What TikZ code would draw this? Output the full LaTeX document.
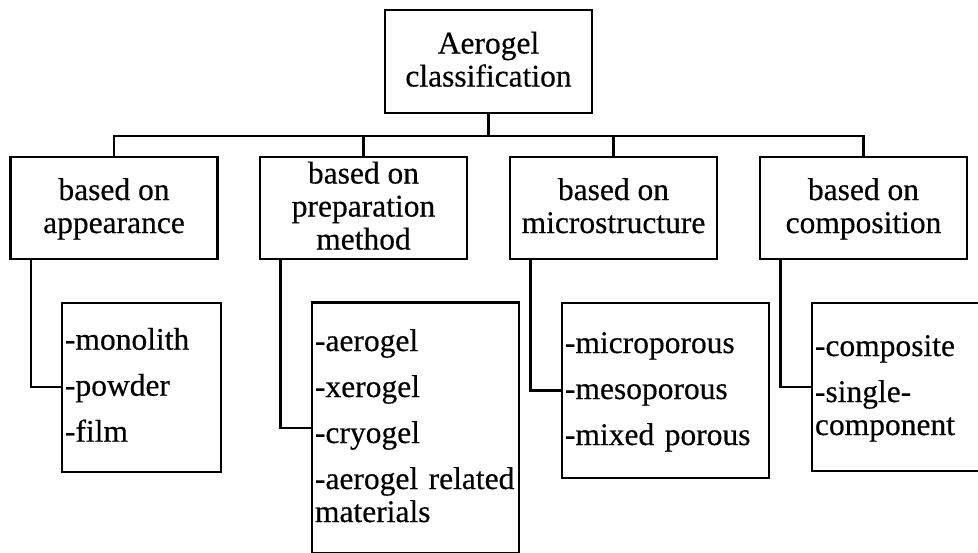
\documentclass[tikz,border=0pt]{standalone}
\usepackage{fontspec}
\setmainfont{Liberation Serif}[FakeBold=0.4]
\newcommand\mystrut{\rule[-8pt]{0pt}{33pt}}
\begin{document}
\begin{tikzpicture}[x=1pt,y=-1pt,
  line width=2.2pt,
  every node/.style={font=\fontsize{31.5}{33}\selectfont},
  topbox/.style={draw, minimum width=207pt, minimum height=103pt, inner sep=0pt, align=center},
  catbox/.style={draw, minimum width=207pt, minimum height=102pt, inner sep=0pt, align=center},
  leafbox/.style={draw, inner xsep=3pt, inner ysep=0pt, align=left, anchor=center},
  conn/.style={line width=2.2pt}
]
\useasboundingbox (0,0) rectangle (978,552);
\clip (0,0) rectangle (978,552);
\node[topbox] (top) at (488.5,61.5) {\mystrut Aerogel\\\mystrut classification};
\node[catbox] (c1) at (114,208) {\mystrut based on\\\mystrut appearance};
\node[catbox] (c2) at (363.5,208) {\mystrut based on\\\mystrut preparation\\\mystrut method};
\node[catbox] (c3) at (613.5,208) {\mystrut based on\\\mystrut microstructure};
\node[catbox] (c4) at (863.5,208) {\mystrut based on\\\mystrut composition};

\node[leafbox, text width=153pt, minimum height=169pt] (l1) at (141.5,387.2)
  {\mystrut-monolith\\[13pt]\mystrut-powder\\[13pt]\mystrut-film};
\node[leafbox, text width=201pt, minimum height=251pt] (l2) at (415.5,428)
  {\mystrut-aerogel\\[13pt]\mystrut-xerogel\\[13pt]\mystrut-cryogel\\[13pt]\mystrut-aerogel related\\\mystrut materials};
\node[leafbox, text width=201pt, minimum height=175pt] (l3) at (665.5,390.5)
  {\mystrut-microporous\\[13pt]\mystrut-mesoporous\\[13pt]\mystrut-mixed porous};
\node[leafbox, text width=201pt, minimum height=168pt] (l4) at (915.5,387)
  {\mystrut-composite\\[13pt]\mystrut-single-\\\mystrut component};

\foreach \c in {c1,c2,c3,c4}
  \draw[conn] (top.south) -- ++(0,22) -| (\c.north);

\draw[conn] ([xshift=21.5pt]c1.south west) |- (l1.west);
\draw[conn] ([xshift=21.5pt]c2.south west) |- (l2.west);
\draw[conn] ([xshift=21.5pt]c3.south west) |- (l3.west);
\draw[conn] ([xshift=21.5pt]c4.south west) |- (l4.west);
\end{tikzpicture}
\end{document}
